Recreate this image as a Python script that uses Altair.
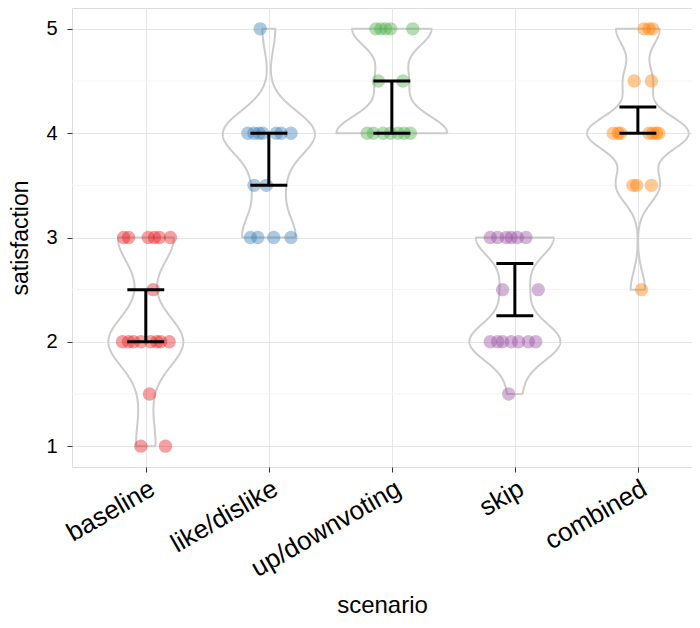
import altair as alt
import numpy as np
import pandas as pd

scenarios = ["baseline", "like/dislike", "up/downvoting", "skip", "combined"]
colors = ["#E41A1C", "#377EB8", "#4DAF4A", "#984EA3", "#FF7F00"]

# satisfaction ratings per scenario
sat_baseline = [3, 3, 3, 3, 3, 3, 2.5, 2, 2, 2, 2, 2, 2, 2, 2, 1.5, 1, 1]
sat_like = [5, 4, 4, 4, 4, 4, 4, 4, 3.5, 3.5, 3, 3, 3, 3]
sat_updown = [5, 5, 5, 5, 5, 4.5, 4.5, 4, 4, 4, 4, 4, 4, 4]
sat_skip = [3, 3, 3, 3, 3, 3, 2.5, 2.5, 2, 2, 2, 2, 2, 2, 2, 1.5]
sat_combined = [5, 5, 5, 4.5, 4.5, 4, 4, 4, 4, 4, 4, 4, 3.5, 3.5, 3.5, 2.5]

# horizontal jitter of each point (category units)
jit_baseline = [-0.18, -0.14, 0.02, 0.07, 0.11, 0.20, 0.06, -0.19, -0.14, -0.10, -0.04, 0.04, 0.09, 0.12, 0.19, 0.03, -0.04, 0.16]
jit_like = [-0.07, -0.17, -0.12, -0.08, -0.05, 0.06, 0.10, 0.18, -0.12, -0.02, -0.15, -0.09, 0.04, 0.18]
jit_updown = [-0.13, -0.09, -0.05, -0.01, 0.17, -0.11, 0.09, -0.20, -0.15, -0.07, -0.01, 0.05, 0.10, 0.15]
jit_skip = [-0.20, -0.14, -0.07, -0.03, 0.02, 0.09, -0.10, 0.19, -0.20, -0.14, -0.10, -0.03, 0.03, 0.11, 0.17, -0.05]
jit_combined = [0.05, 0.09, 0.12, -0.03, 0.11, -0.20, -0.16, -0.14, 0.09, 0.12, 0.15, 0.17, -0.04, -0.01, 0.11, 0.03]

# error bars
err_lo = [2.0, 3.5, 4.0, 2.25, 4.0]
err_hi = [2.5, 4.0, 4.5, 2.75, 4.25]

y_breaks = [1, 2, 3, 4, 5]
y_minor = [1.5, 2.5, 3.5, 4.5]

sats = [sat_baseline, sat_like, sat_updown, sat_skip, sat_combined]
jits = [jit_baseline, jit_like, jit_updown, jit_skip, jit_combined]

rows = []
for i, (s, vals, js) in enumerate(zip(scenarios, sats, jits)):
    for v, j in zip(vals, js):
        rows.append({"scenario": s, "pos": i + 1 + j, "satisfaction": v})
points_df = pd.DataFrame(rows)

# violin outlines: gaussian KDE (bw.nrd0 * adjust), trimmed, scale = "area"
ADJUST = 0.7

def bw_nrd0(x):
    x = np.asarray(x, float)
    hi = np.std(x, ddof=1)
    iqr = np.percentile(x, 75) - np.percentile(x, 25)
    lo = min(hi, iqr / 1.34)
    if lo <= 0:
        lo = hi
    return 0.9 * lo * len(x) ** -0.2

dens = []
for vals in sats:
    x = np.asarray(vals, float)
    bw = bw_nrd0(x) * ADJUST
    grid = np.linspace(x.min(), x.max(), 512)
    d = np.exp(-0.5 * ((grid[:, None] - x[None, :]) / bw) ** 2).sum(axis=1) / (len(x) * bw * np.sqrt(2 * np.pi))
    dens.append((grid, d))
dmax = max(d.max() for _, d in dens)

vrows = []
for i, (s, (grid, d)) in enumerate(zip(scenarios, dens)):
    hw = 0.45 * d / dmax
    k = 0
    for g, h in zip(grid, hw):
        vrows.append({"scenario": s, "px": i + 1 + h, "py": g, "o": k}); k += 1
    for g, h in zip(grid[::-1], hw[::-1]):
        vrows.append({"scenario": s, "px": i + 1 - h, "py": g, "o": k}); k += 1
    vrows.append({"scenario": s, "px": i + 1 + hw[0], "py": grid[0], "o": k})
violin_df = pd.DataFrame(vrows)

err_df = pd.DataFrame({"scenario": scenarios, "pos": [1, 2, 3, 4, 5], "lo": err_lo, "hi": err_hi})
err_df["left"] = err_df["pos"] - 0.15
err_df["right"] = err_df["pos"] + 0.15

minor_df = pd.DataFrame({"y": y_minor})

label_expr = "[" + ",".join("'%s'" % s for s in scenarios) + "][datum.value - 1]"

xscale = alt.Scale(domain=[0.4, 5.44], nice=False, zero=False)
yscale = alt.Scale(domain=[0.8, 5.2], nice=False, zero=False)

FONT = "Liberation Sans"
xaxis = alt.Axis(values=[1, 2, 3, 4, 5], labelExpr=label_expr, title="scenario",
                 labelAngle=-30, labelAlign="right", labelBaseline="top",
                 labelFontSize=26, titleFontSize=24, labelColor="#000000", titleColor="#000000",
                 grid=True, gridColor="#e6e6e6", gridWidth=1, domain=False,
                 tickColor="#333333", tickSize=5, labelPadding=3, titlePadding=12,
                 labelFont=FONT, titleFont=FONT, titleFontWeight="normal", labelOverlap=False)
yaxis = alt.Axis(values=y_breaks, title="satisfaction", format="d",
                 labelFontSize=20, titleFontSize=23, labelColor="#000000", titleColor="#000000",
                 grid=True, gridColor="#e6e6e6", gridWidth=1, domain=False,
                 tickColor="#333333", tickSize=5, labelPadding=10, titlePadding=13,
                 labelFont=FONT, titleFont=FONT, titleFontWeight="normal")

minor = alt.Chart(minor_df).mark_rule(color="#f4f4f4", strokeWidth=1).encode(
    y=alt.Y("y:Q", scale=yscale, axis=yaxis),
    x=alt.value(0), x2=alt.value(620))

violins = alt.Chart(violin_df).mark_line(color="#cccccc", strokeWidth=2).encode(
    x=alt.X("px:Q", scale=xscale, axis=xaxis),
    y=alt.Y("py:Q", scale=yscale, axis=yaxis),
    detail="scenario:N",
    order="o:Q")

pts = alt.Chart(points_df).mark_circle(size=180, opacity=0.42).encode(
    x=alt.X("pos:Q", scale=xscale, axis=xaxis),
    y=alt.Y("satisfaction:Q", scale=yscale, axis=yaxis),
    color=alt.Color("scenario:N", scale=alt.Scale(domain=scenarios, range=colors), legend=None))

ebar = alt.Chart(err_df).mark_rule(color="#000000", strokeWidth=3).encode(
    x=alt.X("pos:Q", scale=xscale, axis=xaxis),
    y=alt.Y("lo:Q", scale=yscale, axis=yaxis), y2="hi:Q")
cap_lo = alt.Chart(err_df).mark_rule(color="#000000", strokeWidth=3).encode(
    x=alt.X("left:Q", scale=xscale, axis=xaxis), x2="right:Q",
    y=alt.Y("lo:Q", scale=yscale, axis=yaxis))
cap_hi = alt.Chart(err_df).mark_rule(color="#000000", strokeWidth=3).encode(
    x=alt.X("left:Q", scale=xscale, axis=xaxis), x2="right:Q",
    y=alt.Y("hi:Q", scale=yscale, axis=yaxis))

chart = alt.layer(minor, violins, pts, ebar, cap_lo, cap_hi).properties(
    width=620, height=459,
    padding={"left": 64, "top": 0, "right": 0, "bottom": 153},
    autosize=alt.AutoSizeParams(type="none"),
).configure_view(stroke="#808080", strokeWidth=1.2).configure(background="#ffffff")

chart.save("out.html", embed_options={"renderer": "svg", "actions": False})
